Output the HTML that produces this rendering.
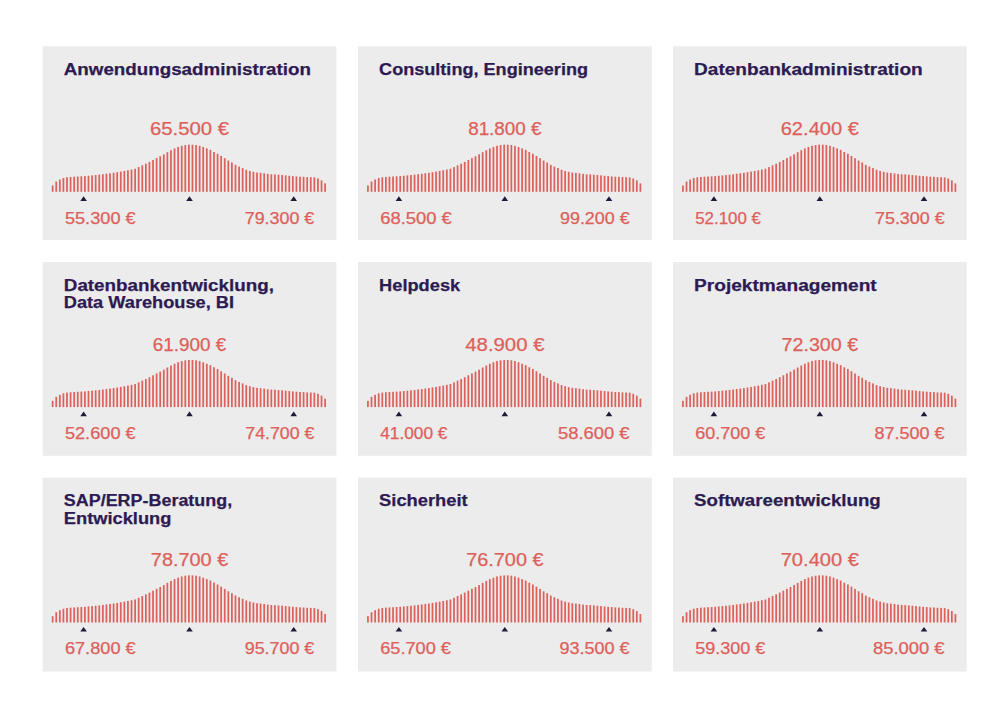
<!DOCTYPE html>
<html><head><meta charset="utf-8"><style>
html,body{margin:0;padding:0;background:#fff;}
svg{display:block;}
.t{font-family:"Liberation Sans",sans-serif;font-weight:bold;font-size:17.2px;fill:#2c1b52;stroke:#2c1b52;stroke-width:0.25px;}
.c{font-family:"Liberation Sans",sans-serif;font-size:18.8px;fill:#dd605a;stroke:#dd605a;stroke-width:0.25px;}
.l{font-family:"Liberation Sans",sans-serif;font-size:16.6px;fill:#dd605a;stroke:#dd605a;stroke-width:0.25px;}
</style></head><body>
<svg width="1000" height="722" viewBox="0 0 1000 722">
<defs><g id="bars" fill="#dd605a"><rect x="9.07" y="139.30" width="1.75" height="6.30"/><rect x="12.66" y="135.32" width="1.75" height="10.28"/><rect x="16.24" y="133.31" width="1.75" height="12.29"/><rect x="19.83" y="131.83" width="1.75" height="13.77"/><rect x="23.41" y="131.08" width="1.75" height="14.52"/><rect x="27.00" y="130.74" width="1.75" height="14.86"/><rect x="30.58" y="130.52" width="1.75" height="15.08"/><rect x="34.17" y="130.31" width="1.75" height="15.29"/><rect x="37.75" y="130.11" width="1.75" height="15.49"/><rect x="41.34" y="129.90" width="1.75" height="15.70"/><rect x="44.92" y="129.55" width="1.75" height="16.05"/><rect x="48.51" y="129.19" width="1.75" height="16.41"/><rect x="52.09" y="128.83" width="1.75" height="16.77"/><rect x="55.68" y="128.47" width="1.75" height="17.13"/><rect x="59.27" y="128.01" width="1.75" height="17.59"/><rect x="62.85" y="127.55" width="1.75" height="18.05"/><rect x="66.43" y="127.08" width="1.75" height="18.52"/><rect x="70.02" y="126.60" width="1.75" height="19.00"/><rect x="73.61" y="125.98" width="1.75" height="19.62"/><rect x="77.19" y="125.37" width="1.75" height="20.23"/><rect x="80.77" y="124.75" width="1.75" height="20.85"/><rect x="84.36" y="124.10" width="1.75" height="21.50"/><rect x="87.95" y="123.33" width="1.75" height="22.27"/><rect x="91.53" y="122.56" width="1.75" height="23.04"/><rect x="95.11" y="120.86" width="1.75" height="24.75"/><rect x="98.70" y="119.12" width="1.75" height="26.48"/><rect x="102.28" y="117.48" width="1.75" height="28.12"/><rect x="105.87" y="115.72" width="1.75" height="29.88"/><rect x="109.45" y="113.77" width="1.75" height="31.83"/><rect x="113.04" y="111.89" width="1.75" height="33.71"/><rect x="116.62" y="110.10" width="1.75" height="35.50"/><rect x="120.21" y="108.13" width="1.75" height="37.47"/><rect x="123.80" y="105.98" width="1.75" height="39.62"/><rect x="127.38" y="104.02" width="1.75" height="41.58"/><rect x="130.96" y="102.23" width="1.75" height="43.37"/><rect x="134.55" y="100.77" width="1.75" height="44.83"/><rect x="138.13" y="99.54" width="1.75" height="46.06"/><rect x="141.72" y="98.84" width="1.75" height="46.76"/><rect x="145.31" y="98.43" width="1.75" height="47.17"/><rect x="148.89" y="98.48" width="1.75" height="47.12"/><rect x="152.48" y="98.79" width="1.75" height="46.81"/><rect x="156.06" y="99.58" width="1.75" height="46.02"/><rect x="159.64" y="100.77" width="1.75" height="44.83"/><rect x="163.23" y="102.20" width="1.75" height="43.40"/><rect x="166.81" y="103.65" width="1.75" height="41.95"/><rect x="170.40" y="105.78" width="1.75" height="39.82"/><rect x="173.99" y="107.56" width="1.75" height="38.04"/><rect x="177.57" y="109.72" width="1.75" height="35.88"/><rect x="181.15" y="111.99" width="1.75" height="33.61"/><rect x="184.74" y="114.36" width="1.75" height="31.24"/><rect x="188.32" y="116.31" width="1.75" height="29.29"/><rect x="191.91" y="118.65" width="1.75" height="26.95"/><rect x="195.50" y="120.41" width="1.75" height="25.19"/><rect x="199.08" y="121.88" width="1.75" height="23.72"/><rect x="202.67" y="123.58" width="1.75" height="22.02"/><rect x="206.25" y="124.69" width="1.75" height="20.91"/><rect x="209.83" y="125.62" width="1.75" height="19.98"/><rect x="213.42" y="126.36" width="1.75" height="19.24"/><rect x="217.00" y="126.69" width="1.75" height="18.91"/><rect x="220.59" y="127.10" width="1.75" height="18.50"/><rect x="224.18" y="127.71" width="1.75" height="17.89"/><rect x="227.76" y="128.10" width="1.75" height="17.50"/><rect x="231.35" y="128.22" width="1.75" height="17.38"/><rect x="234.93" y="128.52" width="1.75" height="17.08"/><rect x="238.51" y="128.78" width="1.75" height="16.82"/><rect x="242.10" y="129.17" width="1.75" height="16.43"/><rect x="245.69" y="129.58" width="1.75" height="16.02"/><rect x="249.27" y="129.90" width="1.75" height="15.70"/><rect x="252.86" y="130.20" width="1.75" height="15.40"/><rect x="256.44" y="130.50" width="1.75" height="15.10"/><rect x="260.02" y="130.62" width="1.75" height="14.98"/><rect x="263.61" y="130.91" width="1.75" height="14.69"/><rect x="267.19" y="131.00" width="1.75" height="14.60"/><rect x="270.78" y="131.18" width="1.75" height="14.42"/><rect x="274.37" y="132.25" width="1.75" height="13.35"/><rect x="277.95" y="134.16" width="1.75" height="11.44"/><rect x="281.53" y="137.14" width="1.75" height="8.46"/></g></defs>
<g transform="translate(42.7,46.2)"><rect x="0" y="0.10" width="293.7" height="193.8" fill="#ececec"/><text class="t" x="21.1" y="28.90" textLength="247.1" lengthAdjust="spacingAndGlyphs">Anwendungsadministration</text><text class="c" x="146.85" y="89" text-anchor="middle" textLength="79.2" lengthAdjust="spacingAndGlyphs">65.500 €</text><text class="l" x="22.2" y="177.6" textLength="70.8" lengthAdjust="spacingAndGlyphs">55.300 €</text><text class="l" x="202.00" y="177.6" textLength="69.6" lengthAdjust="spacingAndGlyphs">79.300 €</text><use href="#bars"/><path d="M37.60 154.7L40.90 150.0L44.20 154.7Z" fill="#1f1838"/><path d="M143.50 154.7L146.80 150.0L150.10 154.7Z" fill="#1f1838"/><path d="M247.70 154.7L251.00 150.0L254.30 154.7Z" fill="#1f1838"/></g><g transform="translate(358.0,46.2)"><rect x="0" y="0.10" width="293.7" height="193.8" fill="#ececec"/><text class="t" x="21.1" y="28.90" textLength="208.9" lengthAdjust="spacingAndGlyphs">Consulting, Engineering</text><text class="c" x="146.85" y="89" text-anchor="middle" textLength="73.4" lengthAdjust="spacingAndGlyphs">81.800 €</text><text class="l" x="22.2" y="177.6" textLength="71.6" lengthAdjust="spacingAndGlyphs">68.500 €</text><text class="l" x="202.00" y="177.6" textLength="69.6" lengthAdjust="spacingAndGlyphs">99.200 €</text><use href="#bars"/><path d="M37.60 154.7L40.90 150.0L44.20 154.7Z" fill="#1f1838"/><path d="M143.50 154.7L146.80 150.0L150.10 154.7Z" fill="#1f1838"/><path d="M247.70 154.7L251.00 150.0L254.30 154.7Z" fill="#1f1838"/></g><g transform="translate(673.0,46.2)"><rect x="0" y="0.10" width="293.7" height="193.8" fill="#ececec"/><text class="t" x="21.1" y="28.90" textLength="228.6" lengthAdjust="spacingAndGlyphs">Datenbankadministration</text><text class="c" x="146.85" y="89" text-anchor="middle" textLength="78.3" lengthAdjust="spacingAndGlyphs">62.400 €</text><text class="l" x="22.2" y="177.6" textLength="65.8" lengthAdjust="spacingAndGlyphs">52.100 €</text><text class="l" x="202.00" y="177.6" textLength="69.6" lengthAdjust="spacingAndGlyphs">75.300 €</text><use href="#bars"/><path d="M37.60 154.7L40.90 150.0L44.20 154.7Z" fill="#1f1838"/><path d="M143.50 154.7L146.80 150.0L150.10 154.7Z" fill="#1f1838"/><path d="M247.70 154.7L251.00 150.0L254.30 154.7Z" fill="#1f1838"/></g><g transform="translate(42.7,261.5)"><rect x="0" y="0.50" width="293.7" height="193.8" fill="#ececec"/><text class="t" x="21.1" y="29.10" textLength="210.2" lengthAdjust="spacingAndGlyphs">Datenbankentwicklung,</text><text class="t" x="21.1" y="46.80" textLength="170.2" lengthAdjust="spacingAndGlyphs">Data Warehouse, BI</text><text class="c" x="146.85" y="89" text-anchor="middle" textLength="73.4" lengthAdjust="spacingAndGlyphs">61.900 €</text><text class="l" x="22.2" y="177.6" textLength="70.8" lengthAdjust="spacingAndGlyphs">52.600 €</text><text class="l" x="202.60" y="177.6" textLength="69.0" lengthAdjust="spacingAndGlyphs">74.700 €</text><use href="#bars"/><path d="M37.60 154.7L40.90 150.0L44.20 154.7Z" fill="#1f1838"/><path d="M143.50 154.7L146.80 150.0L150.10 154.7Z" fill="#1f1838"/><path d="M247.70 154.7L251.00 150.0L254.30 154.7Z" fill="#1f1838"/></g><g transform="translate(358.0,261.5)"><rect x="0" y="0.50" width="293.7" height="193.8" fill="#ececec"/><text class="t" x="21.1" y="29.10" textLength="81.1" lengthAdjust="spacingAndGlyphs">Helpdesk</text><text class="c" x="146.85" y="89" text-anchor="middle" textLength="79.2" lengthAdjust="spacingAndGlyphs">48.900 €</text><text class="l" x="22.2" y="177.6" textLength="67.3" lengthAdjust="spacingAndGlyphs">41.000 €</text><text class="l" x="200.00" y="177.6" textLength="71.6" lengthAdjust="spacingAndGlyphs">58.600 €</text><use href="#bars"/><path d="M37.60 154.7L40.90 150.0L44.20 154.7Z" fill="#1f1838"/><path d="M143.50 154.7L146.80 150.0L150.10 154.7Z" fill="#1f1838"/><path d="M247.70 154.7L251.00 150.0L254.30 154.7Z" fill="#1f1838"/></g><g transform="translate(673.0,261.5)"><rect x="0" y="0.50" width="293.7" height="193.8" fill="#ececec"/><text class="t" x="21.1" y="29.10" textLength="182.6" lengthAdjust="spacingAndGlyphs">Projektmanagement</text><text class="c" x="146.85" y="89" text-anchor="middle" textLength="76.6" lengthAdjust="spacingAndGlyphs">72.300 €</text><text class="l" x="22.2" y="177.6" textLength="70.2" lengthAdjust="spacingAndGlyphs">60.700 €</text><text class="l" x="201.40" y="177.6" textLength="70.2" lengthAdjust="spacingAndGlyphs">87.500 €</text><use href="#bars"/><path d="M37.60 154.7L40.90 150.0L44.20 154.7Z" fill="#1f1838"/><path d="M143.50 154.7L146.80 150.0L150.10 154.7Z" fill="#1f1838"/><path d="M247.70 154.7L251.00 150.0L254.30 154.7Z" fill="#1f1838"/></g><g transform="translate(42.7,476.9)"><rect x="0" y="0.80" width="293.7" height="193.8" fill="#ececec"/><text class="t" x="21.1" y="29.00" textLength="168.4" lengthAdjust="spacingAndGlyphs">SAP/ERP-Beratung,</text><text class="t" x="21.1" y="46.70" textLength="107.6" lengthAdjust="spacingAndGlyphs">Entwicklung</text><text class="c" x="146.85" y="89" text-anchor="middle" textLength="77.4" lengthAdjust="spacingAndGlyphs">78.700 €</text><text class="l" x="22.2" y="177.6" textLength="70.8" lengthAdjust="spacingAndGlyphs">67.800 €</text><text class="l" x="202.00" y="177.6" textLength="69.6" lengthAdjust="spacingAndGlyphs">95.700 €</text><use href="#bars"/><path d="M37.60 154.7L40.90 150.0L44.20 154.7Z" fill="#1f1838"/><path d="M143.50 154.7L146.80 150.0L150.10 154.7Z" fill="#1f1838"/><path d="M247.70 154.7L251.00 150.0L254.30 154.7Z" fill="#1f1838"/></g><g transform="translate(358.0,476.9)"><rect x="0" y="0.80" width="293.7" height="193.8" fill="#ececec"/><text class="t" x="21.1" y="29.00" textLength="88.6" lengthAdjust="spacingAndGlyphs">Sicherheit</text><text class="c" x="146.85" y="89" text-anchor="middle" textLength="77.4" lengthAdjust="spacingAndGlyphs">76.700 €</text><text class="l" x="22.2" y="177.6" textLength="70.8" lengthAdjust="spacingAndGlyphs">65.700 €</text><text class="l" x="201.40" y="177.6" textLength="70.2" lengthAdjust="spacingAndGlyphs">93.500 €</text><use href="#bars"/><path d="M37.60 154.7L40.90 150.0L44.20 154.7Z" fill="#1f1838"/><path d="M143.50 154.7L146.80 150.0L150.10 154.7Z" fill="#1f1838"/><path d="M247.70 154.7L251.00 150.0L254.30 154.7Z" fill="#1f1838"/></g><g transform="translate(673.0,476.9)"><rect x="0" y="0.80" width="293.7" height="193.8" fill="#ececec"/><text class="t" x="21.1" y="29.00" textLength="186.6" lengthAdjust="spacingAndGlyphs">Softwareentwicklung</text><text class="c" x="146.85" y="89" text-anchor="middle" textLength="78.3" lengthAdjust="spacingAndGlyphs">70.400 €</text><text class="l" x="22.2" y="177.6" textLength="70.2" lengthAdjust="spacingAndGlyphs">59.300 €</text><text class="l" x="200.00" y="177.6" textLength="71.6" lengthAdjust="spacingAndGlyphs">85.000 €</text><use href="#bars"/><path d="M37.60 154.7L40.90 150.0L44.20 154.7Z" fill="#1f1838"/><path d="M143.50 154.7L146.80 150.0L150.10 154.7Z" fill="#1f1838"/><path d="M247.70 154.7L251.00 150.0L254.30 154.7Z" fill="#1f1838"/></g>
</svg>
</body></html>
